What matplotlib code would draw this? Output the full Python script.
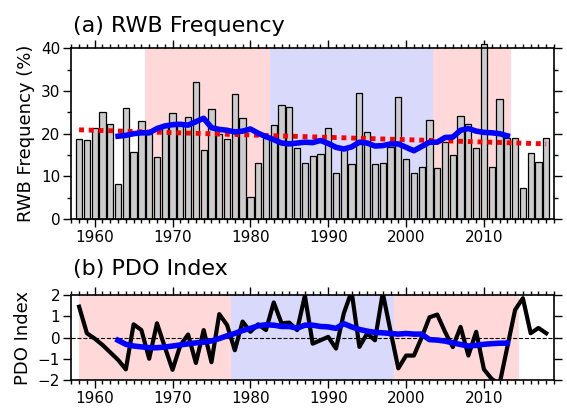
import numpy as np
import matplotlib.pyplot as plt

plt.rcParams['font.family'] = ['DejaVu Sans']

# 연도
years = np.arange(1958, 2019)
run_years = np.arange(1963, 2014)

# (a) RWB 빈도 (%)
rwb_freq = [18.8, 18.4, 21.3, 25.1, 22.3, 8.3, 26.0, 15.7, 23.0, 20.0,
            14.5, 21.5, 24.9, 22.0, 24.0, 32.2, 16.1, 25.8, 20.0, 18.7,
            29.2, 23.6, 5.1, 13.2, 19.0, 22.0, 26.6, 26.2, 16.7, 13.2,
            14.8, 15.2, 21.3, 10.7, 16.5, 12.9, 29.5, 20.3, 12.8, 13.2,
            16.9, 28.7, 14.1, 10.8, 12.1, 23.3, 11.9, 18.0, 14.9, 24.1,
            22.2, 16.7, 41.0, 12.3, 28.2, 18.9, 18.9, 7.2, 15.5, 13.3,
            19.1]
rwb_runmean = [19.4, 19.6, 20.0, 20.2, 20.2, 21.2, 21.8, 22.1, 22.2, 22.0,
               22.8, 23.6, 21.4, 21.0, 20.8, 20.4, 20.6, 21.1, 20.1, 19.3,
               18.6, 17.8, 17.6, 17.8, 18.0, 17.9, 18.4, 17.7, 16.8, 16.4,
               16.9, 18.0, 17.8, 17.1, 17.2, 17.6, 17.6, 16.8, 16.0, 17.0,
               18.0, 18.0, 19.1, 19.2, 20.8, 21.2, 20.6, 20.3, 20.2, 20.0,
               19.5]
trend_years = [1958, 2018]
trend_vals = [20.9, 17.6]

# (b) PDO 지수
pdo = [1.45, 0.2, -0.05, -0.35, -0.7, -1.05, -1.5, 0.62, 0.35, -1.0,
       0.67, -0.44, -1.52, -0.37, 0.14, -1.2, 0.35, -1.16, 1.1, 0.59,
       -0.6, 0.75, 0.27, 0.62, 0.35, 1.65, 0.67, 0.7, 0.35, 1.97,
       -0.29, -0.13, 0.03, -0.52, 1.14, 2.17, -0.44, 0.19, -0.13, 2.1,
       0.3, -1.45, -0.85, -0.85, 0.0, 0.95, 1.08, 0.27, -0.45, 0.5,
       -0.85, 0.27, -1.5, -1.95, -2.2, -0.45, 1.3, 1.85, 0.2, 0.45,
       0.2]
pdo_runmean = [-0.13, -0.32, -0.40, -0.44, -0.48, -0.48, -0.45, -0.40, -0.35, -0.30,
               -0.25, -0.22, -0.16, -0.05, 0.08, 0.19, 0.33, 0.43, 0.55, 0.60,
               0.58, 0.52, 0.52, 0.44, 0.58, 0.58, 0.52, 0.50, 0.43, 0.65,
               0.50, 0.38, 0.30, 0.24, 0.22, 0.19, 0.16, 0.19, 0.16, 0.16,
               -0.10, -0.12, -0.17, -0.25, -0.33, -0.40, -0.37, -0.32, -0.29, -0.27,
               -0.26]

# 위상 구간 (양/음)
phase_a = [(1966.5, 1982.5, 'pos'), (1982.5, 2003.5, 'neg'), (2003.5, 2013.5, 'pos')]
phase_b = [(1958, 1977.5, 'pos'), (1977.5, 1998.5, 'neg'), (1998.5, 2014.5, 'pos')]

pink = '#ffd9d9'
lblue = '#d9d9fc'

fig = plt.figure(figsize=(5.67, 4.09), dpi=100)
ax1 = fig.add_axes([0.1258, 0.4645, 0.8513, 0.4174])
ax2 = fig.add_axes([0.1258, 0.0709, 0.8513, 0.2078])


def style_axis(ax):
    ax.set_xlim(1957, 2019)
    ax.set_xticks(np.arange(1960, 2011, 10))
    ax.set_xticks(np.arange(1957, 2020, 1), minor=True)
    ax.tick_params(which='both', direction='out', top=True, right=True,
                   labelsize=11, width=1, pad=2)
    ax.tick_params(which='major', length=6)
    ax.tick_params(which='minor', length=3)
    for s in ax.spines.values():
        s.set_linewidth(1.2)


# (a) 패널
for x0, x1, p in phase_a:
    ax1.axvspan(x0, x1, color=pink if p == 'pos' else lblue, lw=0, zorder=0)
bars = ax1.bar(years, rwb_freq, width=0.8, color='#cccccc', edgecolor='black',
               linewidth=0.9, zorder=2)
for b in bars:
    b.set_clip_on(False)
ax1.plot(trend_years, trend_vals, color='red', linestyle=(0, (1, 1)),
         linewidth=3.5, zorder=3)
ax1.plot(run_years, rwb_runmean, color='blue', linewidth=4, zorder=4)
ax1.set_ylim(0, 40)
ax1.set_yticks(np.arange(0, 41, 10))
ax1.set_yticks(np.arange(0, 41, 5), minor=True)
style_axis(ax1)
ax1.set_ylabel('RWB Frequency (%)', fontsize=13, labelpad=4)

# (b) 패널
for x0, x1, p in phase_b:
    ax2.axvspan(x0, x1, color=pink if p == 'pos' else lblue, lw=0, zorder=0)
ax2.axhline(0, color='black', linestyle='--', linewidth=0.8, zorder=1)
ax2.plot(years, pdo, color='black', linewidth=3, zorder=3)
ax2.plot(run_years, pdo_runmean, color='blue', linewidth=4, zorder=4)
ax2.set_ylim(-2, 2)
ax2.set_yticks(np.arange(-2, 3, 1))
style_axis(ax2)
ax2.tick_params(axis='y', which='minor', left=False, right=False)
ax2.set_ylabel('PDO Index', fontsize=13, labelpad=4)

# 제목
fig.text(0.128, 1 - 31.5 / 409, '(a) RWB Frequency', fontsize=16, va='baseline')
fig.text(0.128, 1 - 275 / 409, '(b) PDO Index', fontsize=16, va='baseline')

fig.savefig('out.png', dpi=100)
